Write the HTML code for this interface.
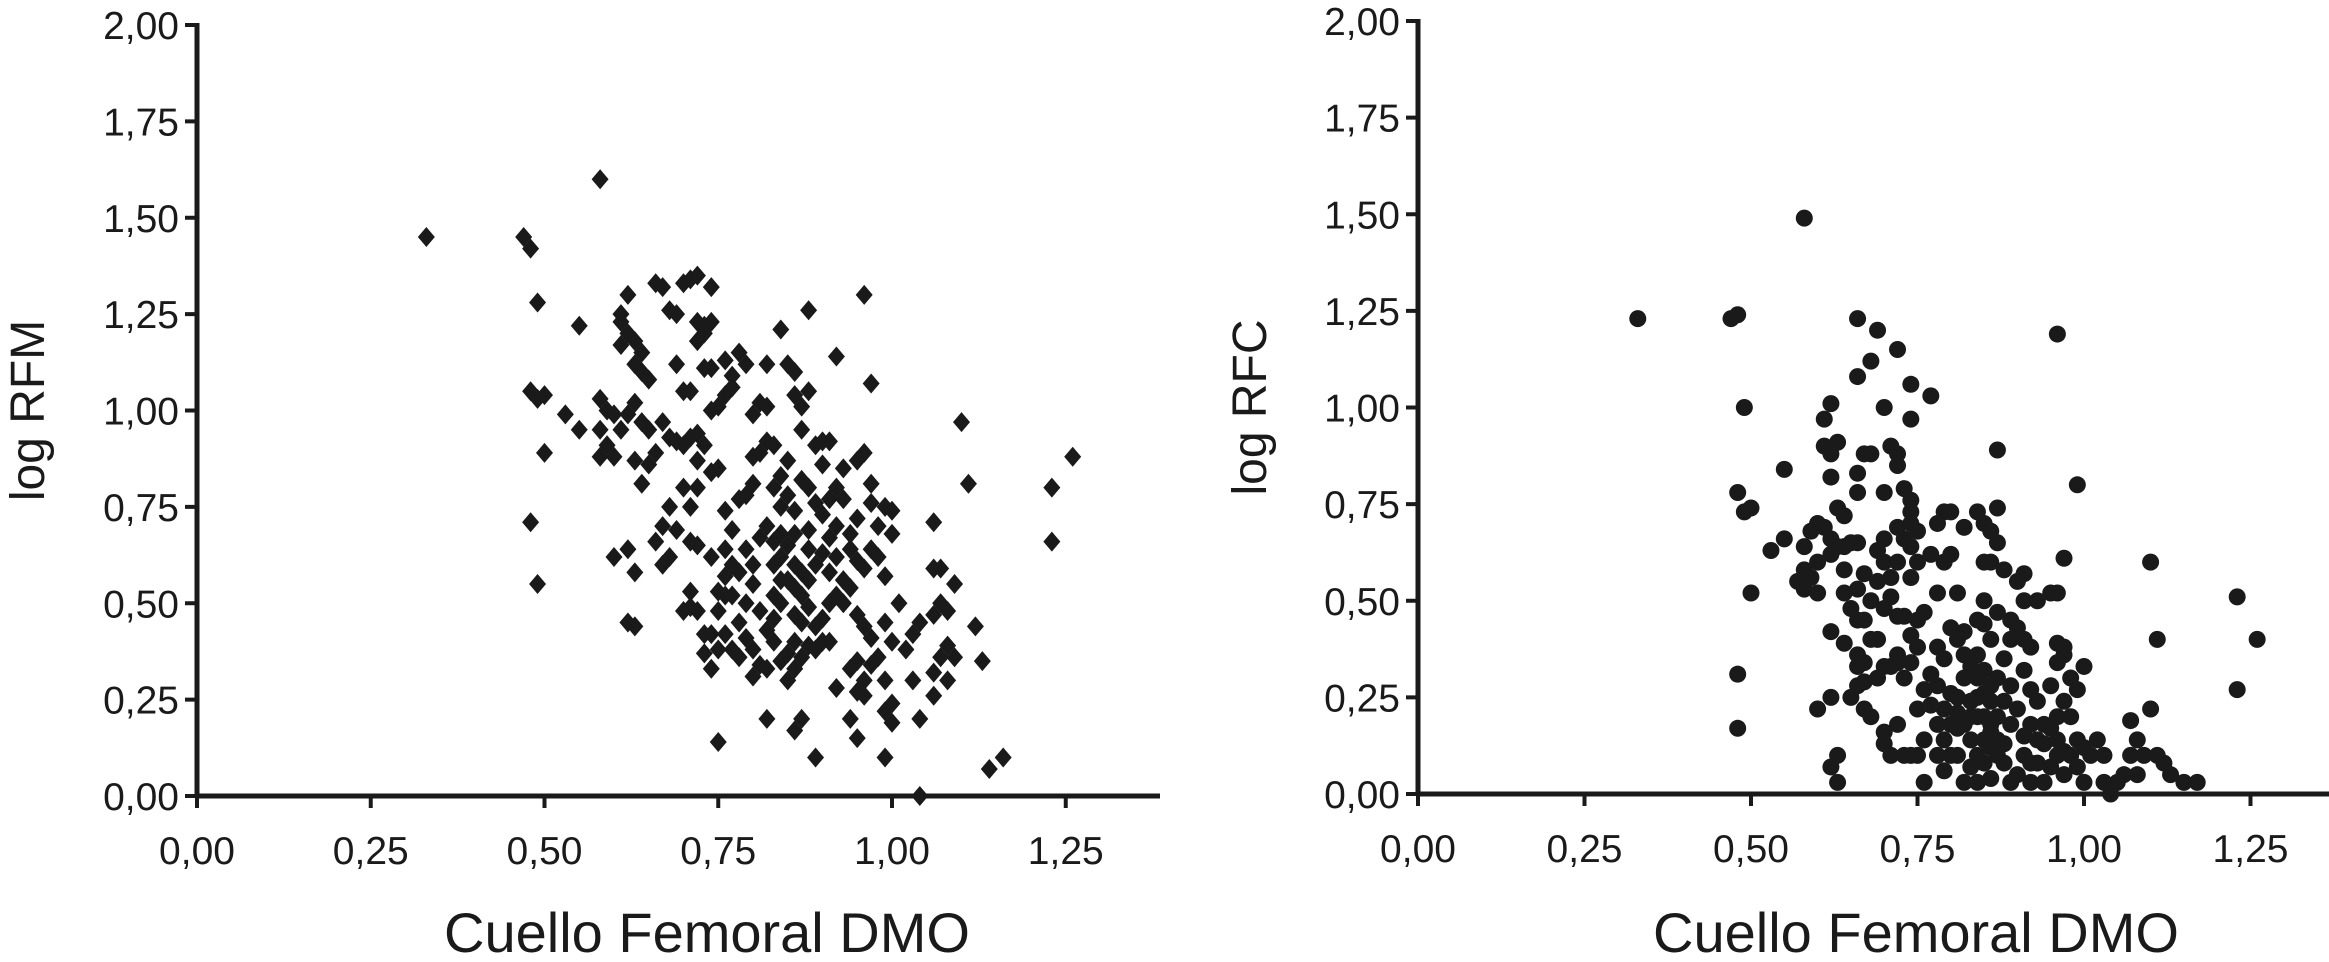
<!DOCTYPE html>
<html><head><meta charset="utf-8"><style>
html,body{margin:0;padding:0;background:#fff;}
svg{display:block;}
text{font-family:"Liberation Sans",sans-serif;fill:#1a1a1a;}
</style></head><body>
<svg id="fig" width="2329" height="962" viewBox="0 0 2329 962" xmlns="http://www.w3.org/2000/svg">
<g id="left"></g>
<g id="right"></g>
</svg>
<script>
const xTicks = [0, 0.25, 0.5, 0.75, 1.0, 1.25];
const yTicks = [0, 0.25, 0.5, 0.75, 1.0, 1.25, 1.5, 1.75, 2.0];
const xTitle = "Cuello Femoral DMO";
const rfmTitle = "log RFM";
const rfcTitle = "log RFC";
const rfmPoints = [[0.33,1.45],[0.47,1.45],[0.48,1.42],[0.58,1.60],[0.49,1.28],[0.48,1.05],[0.49,1.03],[0.50,1.04],[0.50,0.89],[0.48,0.71],[0.49,0.55],[0.53,0.99],[0.55,0.95],[0.55,1.22],[0.60,0.62],[0.62,0.45],[0.63,0.44],[0.62,0.64],[0.63,0.58],[0.96,1.30],[1.10,0.97],[1.11,0.81],[1.23,0.80],[1.26,0.88],[1.23,0.66],[1.14,0.07],[1.16,0.10],[1.04,0.00],[0.75,0.14],[1.13,0.35],[1.12,0.44],[0.89,0.10],[0.99,0.10],[0.97,1.07],[0.92,1.14],[0.88,1.26],[0.84,1.21],
[0.61,1.25],[0.61,1.23],[0.62,1.30],[0.61,1.17],[0.62,1.20],[0.63,1.18],[0.64,1.15],[0.63,1.12],[0.64,1.10],[0.65,1.08],[0.66,1.33],[0.67,1.32],[0.68,1.26],[0.69,1.25],[0.70,1.33],[0.71,1.34],[0.72,1.35],[0.74,1.32],[0.72,1.23],[0.73,1.22],[0.74,1.23],[0.72,1.18],[0.73,1.20],[0.69,1.12],[0.70,1.05],[0.71,1.05],[0.73,1.11],[0.74,1.11],[0.76,1.13],[0.77,1.09],[0.78,1.15],[0.79,1.12],[0.77,1.06],[0.76,1.04],[0.75,1.01],[0.74,1.00],[0.58,1.03],[0.59,1.00],[0.60,0.99],[0.58,0.95],[0.59,0.91],[0.58,0.88],[0.60,0.88],[0.61,0.95],[0.62,0.99],[0.63,1.02],[0.64,0.97],[0.65,0.95],[0.63,0.87],[0.64,0.81],[0.65,0.86],[0.66,0.89],[0.67,0.97],[0.68,0.93],[0.69,0.92],[0.70,0.91],[0.71,0.93],[0.72,0.94],[0.73,0.91],[0.72,0.87],[0.74,0.84],[0.75,0.85],[0.70,0.80],[0.71,0.75],[0.72,0.80],[0.68,0.75],[0.67,0.70],[0.66,0.66],[0.67,0.60],[0.68,0.62],[0.69,0.69],[0.71,0.66],[0.72,0.65],[0.71,0.53],[0.71,0.49],[0.72,0.48],[0.73,0.42],[0.74,0.42],[0.73,0.37],[0.74,0.33],[0.75,0.38],[0.75,0.48],[0.76,0.52],[0.75,0.53],[0.76,0.57],[0.77,0.60],[0.76,0.64],[0.77,0.69],[0.76,0.74],[0.78,0.77],[0.79,0.78],[0.80,0.81],[0.80,0.88],[0.81,0.89],[0.82,0.92],[0.83,0.91],[0.80,0.99],[0.81,1.02],[0.82,1.01],[0.82,1.12],[0.85,1.12],[0.86,1.10],[0.86,1.04],[0.87,1.01],[0.88,1.05],[0.87,0.95],[0.89,0.91],[0.90,0.92],[0.91,0.92],[0.90,0.86],[0.92,0.80],[0.93,0.77],[0.95,0.87],[0.96,0.89],[0.97,0.81],[0.97,0.76],[0.95,0.72],[0.94,0.68],[0.94,0.64],[0.95,0.61],[0.96,0.59],[0.97,0.64],[0.98,0.70],[0.99,0.75],[1.00,0.74],[1.00,0.68],[0.98,0.62],[0.99,0.57],[0.85,0.87],[0.84,0.83],[0.83,0.80],[0.84,0.75],[0.85,0.78],[0.86,0.74],[0.87,0.82],[0.88,0.80],[0.89,0.76],[0.88,0.69],[0.86,0.68],[0.85,0.65],[0.84,0.62],[0.86,0.60],[0.87,0.58],[0.85,0.56],[0.86,0.54],[0.88,0.56],[0.89,0.60],[0.90,0.63],[0.91,0.67],[0.92,0.70],[0.92,0.62],[0.93,0.56],[0.92,0.52],[0.91,0.50],[0.90,0.46],[0.89,0.44],[0.88,0.49],[0.87,0.45],[0.86,0.40],[0.85,0.37],[0.84,0.35],[0.85,0.30],[0.86,0.33],[0.87,0.36],[0.88,0.39],[0.89,0.38],[0.90,0.40],[0.91,0.40],[0.92,0.28],[0.94,0.33],[0.95,0.35],[0.95,0.27],[0.96,0.26],[0.96,0.30],[0.97,0.34],[0.98,0.36],[0.99,0.30],[1.00,0.24],[0.99,0.22],[1.00,0.19],[1.02,0.38],[1.03,0.42],[1.04,0.45],[1.00,0.40],[1.01,0.50],[0.99,0.45],[1.03,0.30],[1.04,0.20],[1.06,0.26],[1.06,0.32],[1.06,0.47],[1.07,0.50],[1.06,0.59],[1.07,0.59],[1.06,0.71],[1.08,0.48],[1.09,0.55],[1.08,0.39],[1.09,0.36],[1.08,0.30],[1.07,0.36],[0.94,0.20],[0.95,0.15],[0.87,0.20],[0.86,0.17],[0.82,0.20],[0.81,0.34],[0.80,0.38],[0.79,0.41],[0.78,0.45],[0.79,0.50],[0.80,0.55],[0.78,0.58],[0.79,0.64],[0.81,0.67],[0.82,0.70],[0.83,0.66],[0.81,0.48],[0.82,0.43],[0.83,0.46],[0.83,0.40],[0.82,0.33],[0.80,0.31],[0.76,0.42],[0.77,0.38],[0.78,0.36],[0.84,0.56],[0.83,0.60],[0.84,0.68],[0.88,0.64],[0.90,0.73],[0.91,0.77],[0.93,0.85],[0.95,0.47],[0.96,0.44],[0.97,0.41],[0.94,0.54],[0.93,0.50],[0.91,0.58],[0.87,0.52],[0.86,0.47],[0.84,0.50],[0.83,0.52],[0.80,0.60],[0.77,0.52],[0.70,0.48],[0.74,0.62]];
const rfcPoints = [[0.33,1.23],[0.47,1.23],[0.48,1.24],[0.58,1.49],[0.49,1.0],[0.48,0.78],[0.49,0.73],[0.50,0.74],[0.50,0.52],[0.48,0.31],[0.48,0.17],[0.55,0.84],[0.53,0.63],[0.55,0.66],[0.96,1.19],[0.99,0.80],[0.97,0.61],[1.10,0.60],[1.11,0.40],[1.23,0.51],[1.26,0.40],[1.23,0.27],[0.66,1.23],[0.69,1.20],[0.72,1.15],[0.66,1.08],[0.68,1.12],[0.74,1.06],[0.77,1.03],[0.62,1.01],[0.61,0.97],[0.70,1.00],[0.74,0.97],[0.87,0.89],
[0.61,0.90],[0.62,0.88],[0.63,0.91],[0.62,0.82],[0.63,0.74],[0.64,0.72],[0.66,0.83],[0.67,0.88],[0.68,0.88],[0.70,0.78],[0.66,0.78],[0.71,0.90],[0.72,0.88],[0.72,0.85],[0.73,0.79],[0.74,0.73],[0.74,0.70],[0.73,0.66],[0.74,0.64],[0.75,0.60],[0.72,0.60],[0.71,0.56],[0.70,0.60],[0.70,0.66],[0.69,0.63],[0.66,0.65],[0.65,0.65],[0.64,0.64],[0.63,0.64],[0.62,0.66],[0.61,0.69],[0.60,0.70],[0.59,0.68],[0.58,0.64],[0.58,0.58],[0.57,0.55],[0.58,0.53],[0.60,0.52],[0.59,0.56],[0.60,0.60],[0.62,0.62],[0.64,0.58],[0.64,0.52],[0.65,0.48],[0.66,0.45],[0.67,0.45],[0.68,0.50],[0.69,0.55],[0.66,0.53],[0.67,0.57],[0.70,0.48],[0.71,0.51],[0.72,0.46],[0.73,0.46],[0.74,0.41],[0.75,0.38],[0.74,0.34],[0.72,0.36],[0.71,0.33],[0.70,0.33],[0.69,0.30],[0.67,0.34],[0.66,0.33],[0.66,0.28],[0.65,0.25],[0.67,0.22],[0.68,0.20],[0.70,0.16],[0.70,0.13],[0.71,0.10],[0.72,0.18],[0.73,0.10],[0.74,0.10],[0.75,0.10],[0.76,0.14],[0.75,0.22],[0.76,0.27],[0.77,0.23],[0.76,0.03],[0.78,0.10],[0.78,0.18],[0.79,0.14],[0.80,0.10],[0.81,0.10],[0.79,0.22],[0.80,0.26],[0.81,0.25],[0.82,0.18],[0.83,0.20],[0.82,0.30],[0.83,0.33],[0.82,0.36],[0.81,0.40],[0.82,0.42],[0.84,0.45],[0.85,0.44],[0.86,0.40],[0.84,0.36],[0.85,0.32],[0.86,0.28],[0.84,0.25],[0.85,0.20],[0.86,0.18],[0.85,0.14],[0.84,0.10],[0.83,0.07],[0.82,0.03],[0.84,0.03],[0.86,0.04],[0.85,0.08],[0.87,0.10],[0.88,0.13],[0.87,0.20],[0.88,0.24],[0.89,0.28],[0.87,0.30],[0.88,0.35],[0.89,0.40],[0.90,0.43],[0.91,0.40],[0.92,0.38],[0.91,0.32],[0.92,0.27],[0.93,0.24],[0.92,0.18],[0.93,0.14],[0.91,0.10],[0.90,0.05],[0.89,0.03],[0.92,0.03],[0.94,0.03],[0.95,0.07],[0.96,0.10],[0.94,0.13],[0.95,0.17],[0.96,0.20],[0.97,0.24],[0.95,0.28],[0.96,0.34],[0.97,0.38],[0.98,0.30],[0.99,0.27],[1.00,0.33],[0.98,0.20],[0.99,0.14],[1.00,0.12],[1.01,0.10],[0.99,0.07],[1.00,0.03],[1.02,0.14],[1.03,0.10],[1.05,0.03],[1.04,0.00],[1.06,0.05],[1.07,0.10],[1.08,0.14],[1.07,0.19],[1.09,0.10],[1.08,0.05],[1.10,0.22],[1.11,0.10],[1.12,0.08],[1.13,0.05],[1.15,0.03],[1.17,0.03],[1.03,0.03],[0.97,0.05],[0.93,0.08],[0.77,0.62],[0.78,0.70],[0.79,0.73],[0.80,0.73],[0.80,0.62],[0.79,0.60],[0.81,0.52],[0.78,0.52],[0.82,0.69],[0.84,0.73],[0.85,0.70],[0.86,0.68],[0.87,0.65],[0.87,0.74],[0.86,0.60],[0.85,0.60],[0.88,0.58],[0.85,0.50],[0.87,0.47],[0.89,0.45],[0.90,0.55],[0.91,0.57],[0.91,0.50],[0.93,0.50],[0.95,0.52],[0.96,0.52],[0.96,0.39],[0.97,0.36],[0.75,0.68],[0.74,0.76],[0.72,0.69],[0.74,0.56],[0.75,0.45],[0.76,0.47],[0.77,0.31],[0.78,0.28],[0.73,0.30],[0.72,0.34],[0.78,0.38],[0.80,0.43],[0.79,0.35],[0.81,0.17],[0.83,0.14],[0.84,0.20],[0.86,0.24],[0.87,0.14],[0.88,0.08],[0.86,0.12],[0.83,0.24],[0.84,0.30],[0.85,0.26],[0.86,0.16],[0.89,0.18],[0.90,0.22],[0.91,0.15],[0.62,0.25],[0.60,0.22],[0.62,0.07],[0.63,0.10],[0.63,0.03],[0.68,0.40],[0.69,0.40],[0.64,0.39],[0.62,0.42],[0.66,0.36],[0.67,0.29],[0.92,0.08],[0.94,0.18],[0.96,0.14],[0.97,0.11],[0.98,0.10],[0.79,0.06],[0.80,0.18],[0.81,0.21]];

const NS = "http://www.w3.org/2000/svg";
function mk(tag, attrs, parent) {
  const e = document.createElementNS(NS, tag);
  for (const k in attrs) e.setAttribute(k, attrs[k]);
  parent.appendChild(e);
  return e;
}
const fmt = v => v.toFixed(2).replace('.', ',');

function drawChart(g, cfg, points, yTitle, marker) {
  const sx = v => cfg.x0 + v * cfg.xUnit;
  const sy = v => cfg.y0 - v * cfg.yUnit;
  const pg = mk('g', {fill: '#1a1a1a'}, g);
  
  
  points.forEach(p => {
    const cx = sx(p[0]), cy = sy(p[1]);
    let el;
    if (marker === 'diamond') {
      el = mk('polygon', {points: `${cx},${cy-10} ${cx+8.5},${cy} ${cx},${cy+10} ${cx-8.5},${cy}`}, pg);
    } else {
      el = mk('circle', {cx: cx, cy: cy, r: 8.5}, pg);
    }
    
    
  });
  const ya = mk('line', {x1: sx(0), y1: sy(0) + 2, x2: sx(0), y2: sy(2) - 2, stroke: '#1a1a1a', 'stroke-width': 5}, g);
  
  
  const xa = mk('line', {x1: sx(0) - 2, y1: sy(0), x2: cfg.xEnd, y2: sy(0), stroke: '#1a1a1a', 'stroke-width': 5}, g);
  
  
  yTicks.forEach(t => {
    const tk = mk('line', {x1: sx(0) - 12, y1: sy(t), x2: sx(0), y2: sy(t), stroke: '#1a1a1a', 'stroke-width': 4}, g);
    
    
    const tl = mk('text', {x: sx(0) - 18, y: sy(t) + 14, 'text-anchor': 'end', 'font-size': 39}, g);
    tl.textContent = fmt(t);
    
    
  });
  xTicks.forEach(t => {
    const tk = mk('line', {x1: sx(t), y1: sy(0), x2: sx(t), y2: sy(0) + 12, stroke: '#1a1a1a', 'stroke-width': 4}, g);
    
    
    const tl = mk('text', {x: sx(t), y: sy(0) + 68, 'text-anchor': 'middle', 'font-size': 39}, g);
    tl.textContent = fmt(t);
    
    
  });
  const xt = mk('text', {x: cfg.xTitleX, y: 952, 'text-anchor': 'middle', 'font-size': 56}, g);
  xt.textContent = xTitle;
  
  
  const yy = (sy(0) + sy(2)) / 2;
  const yt = mk('text', {x: cfg.yTitleX, y: yy, 'text-anchor': 'middle', 'font-size': 48, transform: `rotate(-90 ${cfg.yTitleX} ${yy})`}, g);
  yt.textContent = yTitle;
  
  
}

drawChart(document.getElementById('left'),
  {x0: 197, y0: 796, xUnit: 695, yUnit: 385.5, xEnd: 1160, xTitleX: 707, yTitleX: 44},
  rfmPoints, rfmTitle, 'diamond');
drawChart(document.getElementById('right'),
  {x0: 1418, y0: 794, xUnit: 666, yUnit: 386.5, xEnd: 2329, xTitleX: 1916, yTitleX: 1266},
  rfcPoints, rfcTitle, 'circle');
</script>
</body></html>
